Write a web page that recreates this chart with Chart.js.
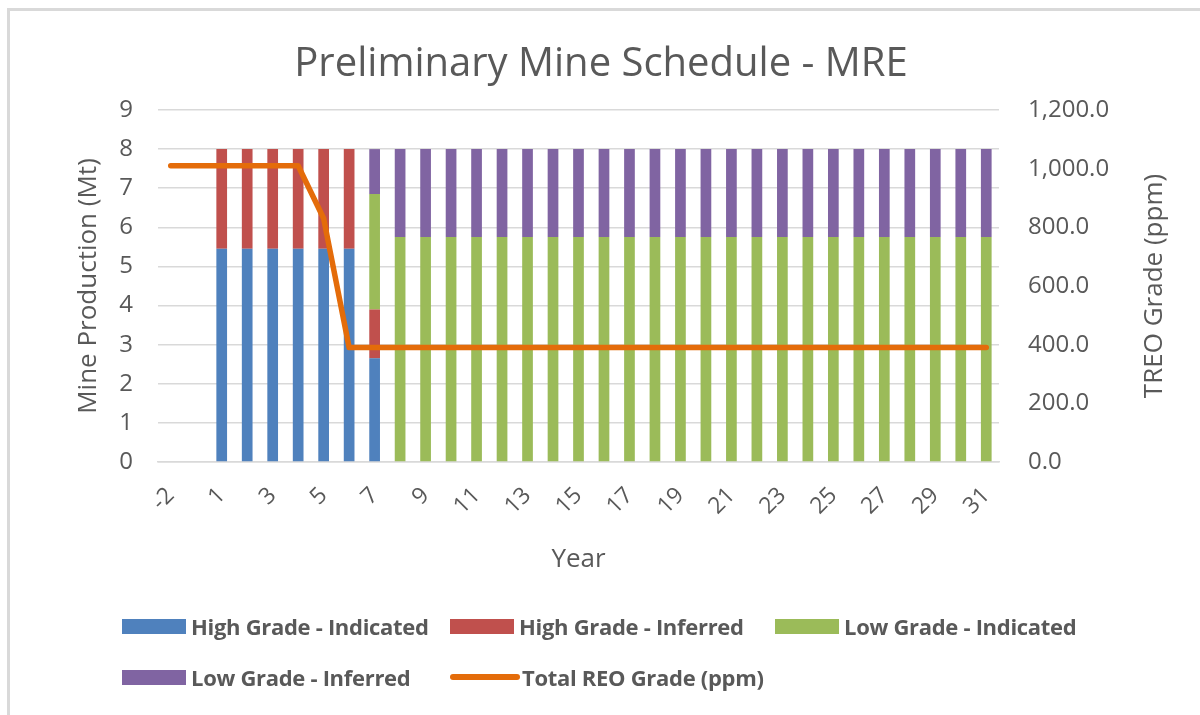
<!DOCTYPE html>
<html>
<head>
<meta charset="utf-8">
<script src="https://cdn.jsdelivr.net/npm/chart.js@4.4.1/dist/chart.umd.min.js"></script>
<style>
    html, body { margin: 0; padding: 0; background: #fff; }
    #wrap { position: relative; width: 1200px; height: 715px; overflow: hidden; font-family: 'Open Sans', sans-serif; }
    #frame { position: absolute; left: 7px; top: 8px; width: 1300px; height: 800px; border-top: 3px solid #d9d9d9; border-left: 3px solid #d9d9d9; }
    canvas { position: absolute; left: 0; top: 0; }
    .item { position: absolute; display: flex; align-items: center; height: 30px; margin-top: -15px; color: #595959; font-size: 22px; font-weight: 700; white-space: nowrap; letter-spacing: -0.3px; }
    .swatch { width: 64px; height: 15px; margin-right: 5px; }
    .lineSwatch { width: 70px; height: 6px; border-radius: 3px; margin-right: 2px; }
</style>
</head>
<body>
<div id="wrap">
    <div id="frame"></div>
    <canvas id="mineChart" width="1200" height="715"></canvas>
    <div id="legend"></div>
</div>
<script>
// categories (years)
const years = ['-2', '-1', '1', '2', '3', '4', '5', '6', '7', '8', '9', '10', '11', '12', '13', '14', '15',
    '16', '17', '18', '19', '20', '21', '22', '23', '24', '25', '26', '27', '28', '29', '30', '31'];

// mine production (Mt)
const highGradeIndicated = [null, null, 5.45, 5.45, 5.45, 5.45, 5.45, 5.45, 2.65, 0, 0, 0, 0, 0, 0, 0, 0,
    0, 0, 0, 0, 0, 0, 0, 0, 0, 0, 0, 0, 0, 0, 0, 0];
const highGradeInferred = [null, null, 2.55, 2.55, 2.55, 2.55, 2.55, 2.55, 1.25, 0, 0, 0, 0, 0, 0, 0, 0,
    0, 0, 0, 0, 0, 0, 0, 0, 0, 0, 0, 0, 0, 0, 0, 0];
const lowGradeIndicated = [null, null, 0, 0, 0, 0, 0, 0, 2.95, 5.75, 5.75, 5.75, 5.75, 5.75, 5.75, 5.75, 5.75,
    5.75, 5.75, 5.75, 5.75, 5.75, 5.75, 5.75, 5.75, 5.75, 5.75, 5.75, 5.75, 5.75, 5.75, 5.75, 5.75];
const lowGradeInferred = [null, null, 0, 0, 0, 0, 0, 0, 1.15, 2.25, 2.25, 2.25, 2.25, 2.25, 2.25, 2.25, 2.25,
    2.25, 2.25, 2.25, 2.25, 2.25, 2.25, 2.25, 2.25, 2.25, 2.25, 2.25, 2.25, 2.25, 2.25, 2.25, 2.25];

// TREO grade (ppm)
const totalReoGrade = [1010, 1010, 1010, 1010, 1010, 1010, 830, 390, 390, 390, 390, 390, 390, 390, 390, 390, 390,
    390, 390, 390, 390, 390, 390, 390, 390, 390, 390, 390, 390, 390, 390, 390, 390];

const textColor = '#595959';
const gridColor = '#d9d9d9';
const fontFamily = "'Open Sans', sans-serif";

function barSet(label, data, color) {
    return {
        type: 'bar',
        label: label,
        data: data,
        backgroundColor: color,
        borderWidth: 0,
        barPercentage: 0.42,
        categoryPercentage: 1,
        yAxisID: 'y',
        order: 1
    };
}

const datasets = [
    barSet('High Grade - Indicated', highGradeIndicated, '#4f81bd'),
    barSet('High Grade - Inferred', highGradeInferred, '#c0504d'),
    barSet('Low Grade - Indicated', lowGradeIndicated, '#9bbb59'),
    barSet('Low Grade - Inferred', lowGradeInferred, '#8064a2'),
    {
        type: 'line',
        label: 'Total REO Grade (ppm)',
        data: totalReoGrade,
        borderColor: '#e46c0a',
        backgroundColor: '#e46c0a',
        borderWidth: 5.5,
        borderCapStyle: 'round',
        borderJoinStyle: 'round',
        pointRadius: 0,
        tension: 0,
        yAxisID: 'y1',
        order: 0
    }
];

// right axis title reads bottom-to-top like Excel's
const rightTitle = {
    id: 'rightTitle',
    afterDraw(chart) {
        const { ctx, chartArea } = chart;
        ctx.save();
        ctx.translate(1155, (chartArea.top + chartArea.bottom) / 2);
        ctx.rotate(-Math.PI / 2);
        ctx.textAlign = 'center';
        ctx.textBaseline = 'middle';
        ctx.fillStyle = textColor;
        ctx.font = '26px ' + fontFamily;
        ctx.fillText('TREO Grade (ppm)', 0, 0);
        ctx.restore();
    }
};

const ctx = document.getElementById('mineChart').getContext('2d');
const chart = new Chart(ctx, {
    data: { labels: years, datasets: datasets },
    plugins: [rightTitle],
    options: {
        responsive: false,
        animation: false,
        layout: { padding: { left: 10, right: 8, top: 0, bottom: 137 } },
        plugins: {
            legend: { display: false },
            tooltip: { enabled: false },
            title: {
                display: true,
                text: 'Preliminary Mine Schedule - MRE',
                color: textColor,
                font: { family: fontFamily, size: 40, weight: 'normal' },
                padding: { top: 41, bottom: 21 }
            }
        },
        scales: {
            x: {
                stacked: true,
                grid: { display: false },
                border: { color: gridColor, width: 1.5 },
                ticks: {
                    autoSkip: false,
                    minRotation: 45,
                    maxRotation: 45,
                    padding: 12,
                    color: textColor,
                    font: { family: fontFamily, size: 23 },
                    callback: function (value, index) {
                        return index % 2 === 0 ? this.getLabelForValue(value) : '';
                    }
                },
                title: {
                    display: true,
                    text: 'Year',
                    color: textColor,
                    font: { family: fontFamily, size: 26 },
                    padding: { top: 0, bottom: 3 }
                },
                afterFit: scale => { scale.height = 116; }
            },
            y: {
                stacked: true,
                position: 'left',
                min: 0,
                max: 9,
                ticks: {
                    stepSize: 1,
                    padding: 25,
                    color: textColor,
                    font: { family: fontFamily, size: 24 }
                },
                grid: { color: gridColor, lineWidth: 1.5, drawTicks: false },
                border: { display: false },
                title: {
                    display: true,
                    text: 'Mine Production (Mt)',
                    color: textColor,
                    font: { family: fontFamily, size: 26 },
                    padding: { top: 63, bottom: 0 }
                },
                afterFit: scale => { scale.width = 148; }
            },
            y1: {
                position: 'right',
                min: 0,
                max: 1200,
                ticks: {
                    stepSize: 200,
                    padding: 29,
                    color: textColor,
                    font: { family: fontFamily, size: 24 },
                    callback: v => v.toLocaleString('en-US', { minimumFractionDigits: 1, maximumFractionDigits: 1 })
                },
                grid: { display: false, drawTicks: false },
                border: { display: false },
                afterFit: scale => { scale.width = 193; }
            }
        }
    }
});

// legend laid out in a grid like the original
const legendSpots = [[122, 626], [450, 626], [775, 626], [122, 677], [450, 677]];
const legendEl = document.getElementById('legend');
chart.data.datasets.forEach((ds, i) => {
    const item = document.createElement('div');
    item.className = 'item';
    item.style.left = legendSpots[i][0] + 'px';
    item.style.top = legendSpots[i][1] + 'px';
    const sw = document.createElement('span');
    sw.className = ds.type === 'line' ? 'lineSwatch' : 'swatch';
    sw.style.background = ds.type === 'line' ? ds.borderColor : ds.backgroundColor;
    item.appendChild(sw);
    item.appendChild(document.createTextNode(ds.label));
    legendEl.appendChild(item);
});
</script>
</body>
</html>
